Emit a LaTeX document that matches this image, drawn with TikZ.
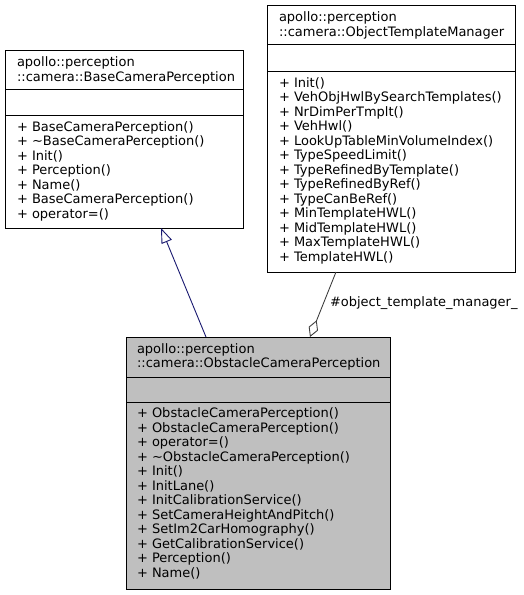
\documentclass[tikz,border=0pt]{standalone}
\usepackage{fontspec}
\setmainfont{DejaVu Sans}
\usetikzlibrary{arrows.meta}
\definecolor{inhcol}{HTML}{191970}
\definecolor{aggcol}{HTML}{404040}
\definecolor{selfill}{HTML}{BFBFBF}
\begin{document}
\begin{tikzpicture}[x=1pt,y=-1pt,
  cls/.style={draw=black, line width=0.9pt, rectangle, inner sep=0pt, outer sep=0pt, anchor=north west},
  sep/.style={draw=black, line width=0.9pt},
  txt/.style={inner sep=0pt, outer sep=0pt, anchor=north west, align=left, font=\fontsize{13}{14.5}\selectfont},
  lbl/.style={inner sep=0pt, outer sep=0pt, anchor=west, font=\fontsize{13}{14.5}\selectfont},
  inh/.style={draw=inhcol, line width=0.9pt, -{Triangle[open, length=15pt, width=11pt, line width=0.9pt]}},
  agg/.style={draw=aggcol, line width=0.9pt, -{Diamond[open, length=18pt, width=10pt, line width=0.9pt]}}
]
\useasboundingbox (0,0) rectangle (523,595);
% BaseCameraPerception
\node[cls, minimum width=238pt, minimum height=178pt] (base) at (5,50) {};
\draw[sep] (5,89.5) -- (243,89.5);
\draw[sep] (5,115.5) -- (243,115.5);
\node[txt] (basetitle) at (17,57) {apollo::perception\\::camera::BaseCameraPerception};
\node[txt] (basemem) at (17,121.5) {+ BaseCameraPerception()\\+ \textasciitilde BaseCameraPerception()\\+ Init()\\+ Perception()\\+ Name()\\+ BaseCameraPerception()\\+ operator=()};
% ObjectTemplateManager
\node[cls, minimum width=248pt, minimum height=267pt] (otm) at (267,5) {};
\draw[sep] (267,44) -- (515,44);
\draw[sep] (267,71) -- (515,71);
\node[txt] (otmtitle) at (279,12) {apollo::perception\\::camera::ObjectTemplateManager};
\node[txt] (otmmem) at (279,77.5) {+ Init()\\+ VehObjHwlBySearchTemplates()\\+ NrDimPerTmplt()\\+ VehHwl()\\+ LookUpTableMinVolumeIndex()\\+ TypeSpeedLimit()\\+ TypeRefinedByTemplate()\\+ TypeRefinedByRef()\\+ TypeCanBeRef()\\+ MinTemplateHWL()\\+ MidTemplateHWL()\\+ MaxTemplateHWL()\\+ TemplateHWL()};
% ObstacleCameraPerception
\node[cls, fill=selfill, minimum width=264pt, minimum height=252pt] (obs) at (126,337) {};
\draw[sep] (126,377) -- (390,377);
\draw[sep] (126,402) -- (390,402);
\node[txt] (obstitle) at (137,343.5) {apollo::perception\\::camera::ObstacleCameraPerception};
\node[txt] (obsmem) at (137,408) {+ ObstacleCameraPerception()\\+ ObstacleCameraPerception()\\+ operator=()\\+ \textasciitilde ObstacleCameraPerception()\\+ Init()\\+ InitLane()\\+ InitCalibrationService()\\+ SetCameraHeightAndPitch()\\+ SetIm2CarHomography()\\+ GetCalibrationService()\\+ Perception()\\+ Name()};
% connectors
\coordinate (inhstart) at (206,337);
\coordinate (inhend) at (161,228);
\draw[inh] (inhstart) -- (inhend);
\coordinate (aggstart) at (336,272);
\coordinate (aggend) at (310,337);
\draw[agg] (aggstart) -- (aggend);
\node[lbl] (agglbl) at (330,303) {\#object\_template\_manager\_};
\end{tikzpicture}
\end{document}
